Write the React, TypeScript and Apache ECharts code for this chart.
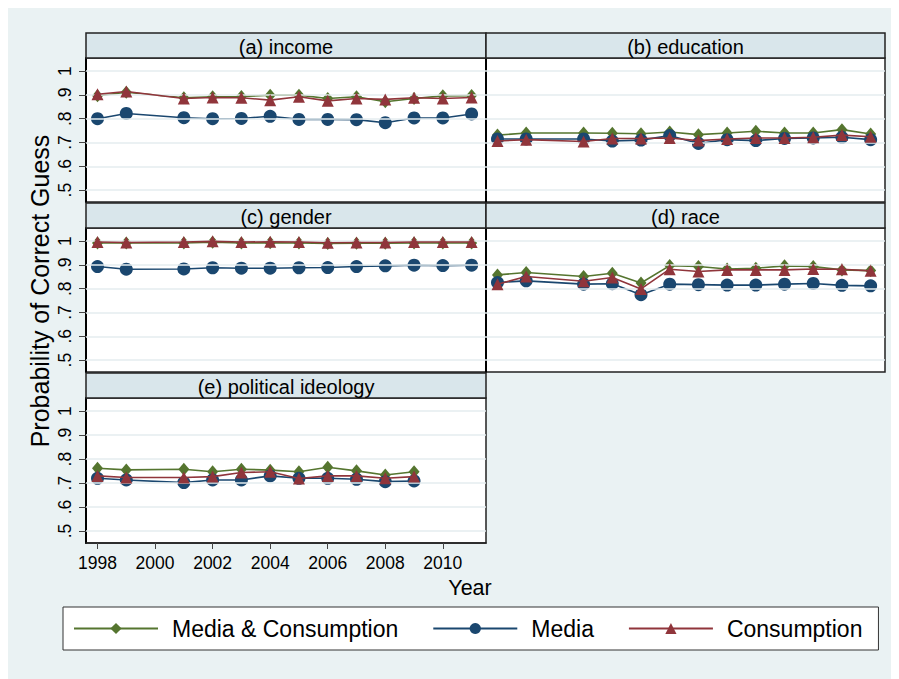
import React, { useEffect, useRef } from "react";
import * as echarts from "echarts";

// Survey years (no wave in 2000)
const years = [1998, 1999, 2001, 2002, 2003, 2004, 2005, 2006, 2007, 2008, 2009, 2010, 2011];
const yearsIdeology = [1998, 1999, 2001, 2002, 2003, 2004, 2005, 2006, 2007, 2008, 2009];

// (a) income
const incomeBoth = [0.896, 0.911, 0.888, 0.892, 0.893, 0.899, 0.899, 0.885, 0.892, 0.871, 0.885, 0.896, 0.897];
const incomeMedia = [0.8, 0.822, 0.804, 0.8, 0.801, 0.81, 0.797, 0.797, 0.796, 0.783, 0.803, 0.803, 0.82];
const incomeCons = [0.903, 0.914, 0.885, 0.889, 0.888, 0.878, 0.892, 0.875, 0.885, 0.881, 0.888, 0.885, 0.889];

// (b) education
const eduBoth = [0.731, 0.74, 0.74, 0.739, 0.737, 0.744, 0.733, 0.74, 0.747, 0.74, 0.74, 0.754, 0.736];
const eduMedia = [0.715, 0.715, 0.715, 0.706, 0.71, 0.729, 0.696, 0.712, 0.708, 0.717, 0.719, 0.722, 0.712];
const eduCons = [0.706, 0.712, 0.704, 0.717, 0.717, 0.719, 0.708, 0.715, 0.719, 0.719, 0.722, 0.731, 0.724];

// (c) gender
const genderBoth = [0.992, 0.992, 0.992, 0.995, 0.992, 0.993, 0.992, 0.99, 0.991, 0.991, 0.992, 0.992, 0.992];
const genderMedia = [0.893, 0.882, 0.883, 0.888, 0.886, 0.886, 0.888, 0.889, 0.893, 0.896, 0.899, 0.897, 0.899];
const genderCons = [0.996, 0.994, 0.996, 0.999, 0.996, 0.997, 0.996, 0.993, 0.994, 0.994, 0.996, 0.996, 0.996];

// (d) race
const raceBoth = [0.858, 0.868, 0.851, 0.865, 0.824, 0.897, 0.893, 0.883, 0.886, 0.896, 0.893, 0.879, 0.876];
const raceMedia = [0.826, 0.833, 0.819, 0.821, 0.775, 0.819, 0.817, 0.815, 0.815, 0.819, 0.822, 0.814, 0.812];
const raceCons = [0.819, 0.851, 0.831, 0.847, 0.799, 0.882, 0.872, 0.879, 0.879, 0.879, 0.883, 0.882, 0.875];

// (e) political ideology
const ideoBoth = [0.762, 0.755, 0.758, 0.747, 0.758, 0.754, 0.747, 0.766, 0.751, 0.734, 0.747];
const ideoMedia = [0.72, 0.713, 0.702, 0.713, 0.713, 0.73, 0.72, 0.72, 0.716, 0.706, 0.709];
const ideoCons = [0.73, 0.723, 0.723, 0.727, 0.744, 0.747, 0.719, 0.73, 0.73, 0.72, 0.727];

const panelTitles = ["(a) income", "(b) education", "(c) gender", "(d) race", "(e) political ideology"];
const seriesNames = ["Media & Consumption", "Media", "Consumption"];
const yTicks = [0.5, 0.6, 0.7, 0.8, 0.9, 1];
const yTickLabels = [".5", ".6", ".7", ".8", ".9", "1"];
const xTicks = [1998, 2000, 2002, 2004, 2006, 2008, 2010];

const FONT = "Liberation Sans, Arial, Helvetica, sans-serif";
const GREEN = "#55752f";
const BLUE = "#1a476f";
const RED = "#90353b";
const BG = "#eaf2f3";
const STRIP = "#d9e6eb";
const GRIDLINE = "#e4ecef";

type Panel = { x: number[]; both: number[]; media: number[]; cons: number[] };

const panels: Panel[] = [
  { x: years, both: incomeBoth, media: incomeMedia, cons: incomeCons },
  { x: years, both: eduBoth, media: eduMedia, cons: eduCons },
  { x: years, both: genderBoth, media: genderMedia, cons: genderCons },
  { x: years, both: raceBoth, media: raceMedia, cons: raceCons },
  { x: yearsIdeology, both: ideoBoth, media: ideoMedia, cons: ideoCons },
];

// panel boxes (plot regions) in chart pixels
const boxes = [
  { left: 78, top: 50, width: 400, height: 144 },
  { left: 478, top: 50, width: 399, height: 144 },
  { left: 78, top: 220, width: 400, height: 144 },
  { left: 478, top: 220, width: 399, height: 144 },
  { left: 78, top: 390, width: 400, height: 145 },
];
const STRIP_H = 25;

function buildOption() {
  const grid = boxes.map((b) => ({
    left: b.left,
    top: b.top,
    width: b.width,
    height: b.height,
    show: true,
    backgroundColor: "#ffffff",
    borderColor: "#222",
    borderWidth: 1.5,
    containLabel: false,
  }));

  const xAxis = boxes.map((_, i) => {
    const bottom = i === 4;
    return {
      type: "value",
      gridIndex: i,
      min: 1997.6,
      max: 2011.5,
      splitLine: { show: false },
      axisLine: { show: bottom, onZero: false, lineStyle: { color: "#222", width: 1.5 } },
      axisTick: {
        show: bottom,
        customValues: xTicks,
        length: 6,
        lineStyle: { color: "#444", width: 1 },
      },
      axisLabel: {
        show: bottom,
        customValues: xTicks,
        margin: 11,
        fontSize: 17.5,
        color: "#000",
        fontFamily: FONT,
        formatter: (v: number) => String(Math.round(v)),
      },
    };
  });

  const yAxis = boxes.map((_, i) => {
    const leftCol = i % 2 === 0;
    return {
      type: "value",
      gridIndex: i,
      min: 0.45,
      max: 1.055,
      splitLine: { show: false },
      axisLine: { show: true, onZero: false, lineStyle: { color: "#000", width: 2 } },
      axisTick: {
        show: leftCol,
        customValues: yTicks,
        length: 7,
        lineStyle: { color: "#444", width: 1 },
      },
      axisLabel: {
        show: leftCol,
        customValues: yTicks,
        rotate: 90,
        margin: 12,
        fontSize: 17.5,
        color: "#000",
        fontFamily: FONT,
        formatter: (v: number) => {
          const k = yTicks.findIndex((t) => Math.abs(t - v) < 1e-6);
          return k >= 0 ? yTickLabels[k] : "";
        },
      },
    };
  });

  const series: any[] = [];
  panels.forEach((p, i) => {
    // horizontal grid lines at the labelled ticks
    series.push({
      type: "line",
      xAxisIndex: i,
      yAxisIndex: i,
      data: [],
      z: 1,
      silent: true,
      markLine: {
        silent: true,
        symbol: ["none", "none"],
        label: { show: false },
        lineStyle: { color: GRIDLINE, width: 1.5, type: "solid" },
        data: yTicks.map((v) => ({ yAxis: v })),
      },
    });
    const defs = [
      { name: seriesNames[0], vals: p.both, color: GREEN, symbol: "diamond", size: [11, 13] },
      { name: seriesNames[1], vals: p.media, color: BLUE, symbol: "circle", size: 13 },
      { name: seriesNames[2], vals: p.cons, color: RED, symbol: "triangle", size: 12 },
    ];
    defs.forEach((d, k) => {
      series.push({
        name: d.name,
        type: "line",
        xAxisIndex: i,
        yAxisIndex: i,
        z: 3 + k,
        data: p.x.map((yr, j) => [yr, d.vals[j]]),
        symbol: d.symbol,
        symbolSize: d.size,
        showAllSymbol: true,
        lineStyle: { color: d.color, width: 1.6 },
        itemStyle: { color: d.color },
        emphasis: { disabled: true },
      });
    });
  });

  const graphics: any[] = [];
  boxes.forEach((b, i) => {
    graphics.push({
      type: "rect",
      shape: { x: b.left, y: b.top - STRIP_H, width: b.width, height: STRIP_H },
      style: { fill: STRIP, stroke: "#222", lineWidth: 1.5 },
      z: 10,
    });
    graphics.push({
      type: "text",
      x: b.left + b.width / 2,
      y: b.top - STRIP_H / 2 + 1,
      style: {
        text: panelTitles[i],
        fontSize: 20,
        fontFamily: FONT,
        fill: "#000",
        align: "center",
        verticalAlign: "middle",
      },
      z: 11,
    });
  });
  graphics.push({
    type: "text",
    x: 32,
    y: 283,
    rotation: Math.PI / 2,
    style: {
      text: "Probability of Correct Guess",
      fontSize: 25,
      fontFamily: FONT,
      fill: "#000",
      align: "center",
      verticalAlign: "middle",
    },
  });
  graphics.push({
    type: "text",
    x: 462,
    y: 580,
    style: {
      text: "Year",
      fontSize: 21.5,
      fontFamily: FONT,
      fill: "#000",
      align: "center",
      verticalAlign: "middle",
    },
  });

  return {
    animation: false,
    backgroundColor: BG,
    textStyle: { fontFamily: FONT },
    grid,
    xAxis,
    yAxis,
    series,
    graphic: graphics,
    legend: {
      data: seriesNames,
      left: 55,
      top: 599,
      orient: "horizontal",
      itemWidth: 84,
      itemHeight: 14,
      itemGap: 34,
      padding: [10, 16, 10, 10],
      backgroundColor: "#ffffff",
      borderColor: "#333",
      borderWidth: 1,
      borderRadius: 0,
      selectedMode: false,
      textStyle: { fontSize: 23, color: "#000", fontFamily: FONT, padding: [0, 0, 0, 9] },
    },
  };
}

export default function App() {
  const ref = useRef<HTMLDivElement>(null);
  useEffect(() => {
    if (!ref.current) return;
    const chart = echarts.init(ref.current, null, { renderer: "svg" });
    chart.setOption(buildOption() as any);
    return () => chart.dispose();
  }, []);
  return <div ref={ref} style={{ width: 891, height: 671 }} />;
}
